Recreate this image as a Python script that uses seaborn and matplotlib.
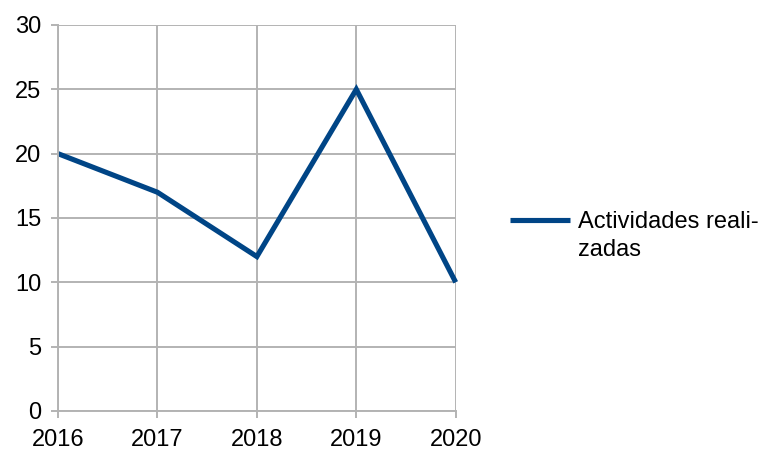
import seaborn as sns
import pandas as pd
import matplotlib.pyplot as plt

# chart values
years = [2016, 2017, 2018, 2019, 2020]
actividades = [20, 17, 12, 25, 10]
series_label = ["Actividades reali-", "zadas"]

sns.set_theme(style="white")
plt.rcParams['font.family'] = ['Liberation Sans', 'DejaVu Sans']

df = pd.DataFrame({"Año": years, "Actividades": actividades})

fig = plt.figure(figsize=(7.79, 4.57), dpi=100)
ax = fig.add_axes([0.0745, 0.1007, 0.5105, 0.8446])

grid_col = "#b3b3b3"
sns.lineplot(data=df, x="Año", y="Actividades", ax=ax, color="#004586",
             linewidth=3.7, label=series_label[0])

ax.set_xlim(2016, 2020)
ax.set_ylim(0, 30)
ax.set_xticks(years)
ax.set_yticks(range(0, 31, 5))
ax.set_xlabel("")
ax.set_ylabel("")
ax.grid(True, color=grid_col, linewidth=1.4)
ax.set_axisbelow(True)
for s in ax.spines.values():
    s.set_visible(False)
for side in ['left', 'bottom']:
    ax.spines[side].set_visible(True)
    ax.spines[side].set_color(grid_col)
    ax.spines[side].set_linewidth(1.4)
ax.tick_params(axis='both', which='both', length=5, width=1.4, color=grid_col,
               labelsize=17, labelcolor="black", direction='out',
               bottom=True, left=True)
ax.tick_params(axis='x', pad=8)
ax.tick_params(axis='y', pad=7)
for ln in ax.get_lines():
    ln.set_clip_on(False)
    ln.set_solid_capstyle('butt')
    ln.set_solid_joinstyle('miter')

leg = ax.legend(loc="center left", bbox_to_anchor=(1.136, 0.49), frameon=False,
                fontsize=17, handlelength=2.55, handletextpad=0.34,
                borderaxespad=0, borderpad=0, labelcolor="black")
for h in leg.get_lines():
    h.set_solid_capstyle('butt')
    h.set_linewidth(3.7)

# wrapped second line of the legend label, placed under the first line
fig.canvas.draw()
bb = leg.get_texts()[0].get_window_extent()
fig.text(bb.x0 / fig.bbox.width, (bb.y0 - 28) / fig.bbox.height, series_label[1],
         ha="left", va="bottom", fontsize=17, color="black")

fig.savefig("out.png", dpi=100)
